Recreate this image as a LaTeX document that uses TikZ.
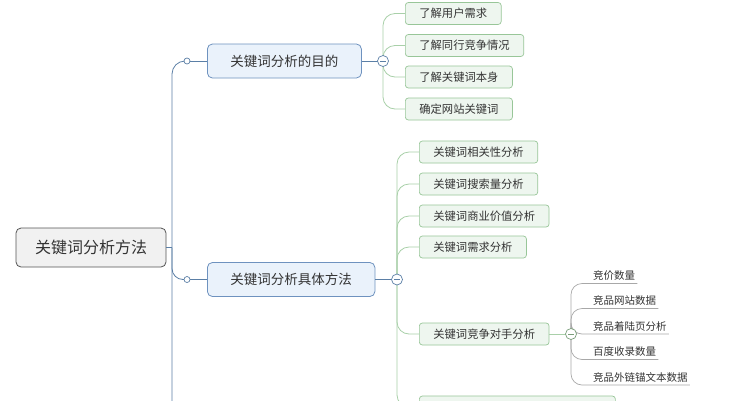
\documentclass[tikz,border=0pt]{standalone}
\usepackage{fontspec}
\newfontfamily\cjk{Noto Sans CJK SC}
\definecolor{txt}{HTML}{333333}
\definecolor{bline}{HTML}{5B7FA6}
\definecolor{bdraw}{HTML}{6E92BF}
\definecolor{bfill}{HTML}{EAF2FB}
\definecolor{rfill}{HTML}{F1F1F1}
\definecolor{rdraw}{HTML}{555555}
\definecolor{gdraw}{HTML}{98C698}
\definecolor{gfill}{HTML}{EEF6EF}
\definecolor{gline}{HTML}{A9D0A9}
\definecolor{sline}{HTML}{A8A8A8}
\begin{document}
\begin{tikzpicture}[x=1pt,y=-1pt,
  every node/.style={font=\cjk, text=txt},
  rootbox/.style={draw=rdraw, fill=rfill, rounded corners=5pt, line width=0.8pt,
    minimum height=39pt, inner xsep=19pt, font=\cjk\fontsize{16}{18}\selectfont},
  branchbox/.style={draw=bdraw, fill=bfill, rounded corners=5pt, line width=0.8pt,
    minimum height=34pt, inner xsep=23pt, anchor=west, font=\cjk\fontsize{13.5}{15}\selectfont},
  leafbox/.style={draw=gdraw, fill=gfill, rounded corners=3pt, line width=0.7pt,
    minimum height=22pt, inner xsep=14pt, anchor=west, font=\cjk\fontsize{11.3}{13}\selectfont},
  subleaf/.style={inner xsep=0pt, inner ysep=2.5pt, anchor=south west, font=\cjk\fontsize{10.5}{12}\selectfont},
  dot/.style={circle, draw=bline, fill=white, line width=0.7pt, inner sep=0pt, minimum size=6pt},
  minusc/.style={circle, draw=#1, fill=white, line width=0.7pt, inner sep=0pt, minimum size=11pt,
    path picture={\draw[#1, line width=0.8pt] ([xshift=-2.8pt]path picture bounding box.center) -- ([xshift=2.8pt]path picture bounding box.center);}},
  bcon/.style={draw=bline, line width=0.8pt},
  gcon/.style={draw=gline, line width=0.8pt, rounded corners=12pt},
  scon/.style={draw=sline, line width=0.7pt, rounded corners=11pt}
]
\clip (0,0) rectangle (735,400);
\fill[white] (0,0) rectangle (735,400);

% root and branches
\node[rootbox] (root) at (91,247.5) {关键词分析方法};
\node[branchbox] (b1) at (207,61) {关键词分析的目的};
\node[branchbox] (b2) at (207,279.5) {关键词分析具体方法};
\coordinate (c1) at (187,61);
\coordinate (c2) at (187,279.5);
\coordinate (tbot) at (172,420);
\coordinate (tj) at (172,247.5);
\coordinate (m1) at (383,61);
\coordinate (m2) at (397,279.5);
\coordinate (m3) at (571,334);

% leaves of branch 1
\node[leafbox] (l11) at (405,13.5) {了解用户需求};
\node[leafbox] (l12) at (405,45.5) {了解同行竞争情况};
\node[leafbox] (l13) at (405,77) {了解关键词本身};
\node[leafbox] (l14) at (405,109) {确定网站关键词};

% leaves of branch 2
\node[leafbox] (l21) at (419,152) {关键词相关性分析};
\node[leafbox] (l22) at (419,184) {关键词搜索量分析};
\node[leafbox] (l23) at (419,216) {关键词商业价值分析};
\node[leafbox] (l24) at (419,247) {关键词需求分析};
\node[leafbox] (l25) at (419,334) {关键词竞争对手分析};
\node[leafbox, minimum width=196pt] (l26) at (419,407) {};

% sub leaves
\node[subleaf] (s1) at (593,283.5) {竞价数量};
\node[subleaf] (s2) at (593,308.5) {竞品网站数据};
\node[subleaf] (s3) at (593,334) {竞品着陆页分析};
\node[subleaf] (s4) at (593,359.5) {百度收录数量};
\node[subleaf] (s5) at (593,385) {竞品外链锚文本数据};

% trunk connectors
\draw[bcon] (root.east) -- (tj);
\draw[bcon, rounded corners=13pt] (tbot) |- (c1);
\draw[bcon, rounded corners=11pt] (tj) |- (c2);
\draw[bcon] (c1) -- (b1.west);
\draw[bcon] (c2) -- (b2.west);
\draw[bcon] (b1.east) -- (m1);
\draw[bcon] (b2.east) -- (m2);

% green connectors
\foreach \n in {l11,l12,l13,l14} \draw[gcon] (m1) |- (\n.west);
\foreach \n in {l21,l22,l23,l24,l25,l26} \draw[gcon] (m2) |- (\n.west);
\draw[gline, line width=0.8pt] (l25.east) -- (m3);

% sub connectors with underline
\foreach \n in {s1,s2,s3,s4,s5} \draw[scon] (m3) |- ([xshift=2pt]\n.south east);

% circles on top
\node[dot] at (c1) {};
\node[dot] at (c2) {};
\node[minusc=bline] at (m1) {};
\node[minusc=bline] at (m2) {};
\node[minusc=gdraw!80!black] at (m3) {};
\end{tikzpicture}
\end{document}
